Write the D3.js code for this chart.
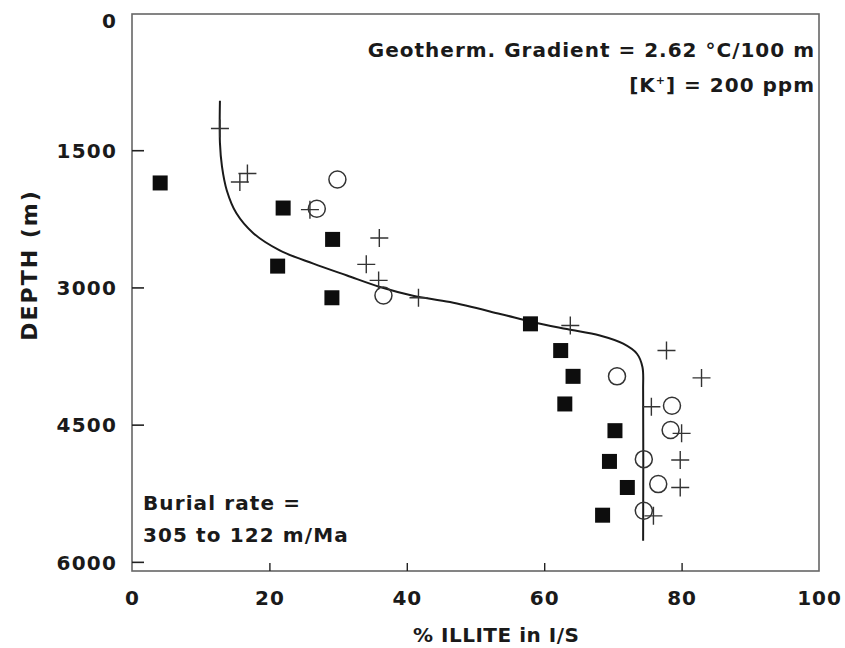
<!DOCTYPE html>
<html><head><meta charset="utf-8">
<script src="https://cdn.jsdelivr.net/npm/d3@7"></script>
<style>
html,body{margin:0;padding:0;background:#fff;}
text{font-family:"DejaVu Sans",sans-serif;font-weight:bold;fill:#1a1a1a;}
</style></head>
<body>
<svg id="chart" width="845" height="648"></svg>
<script>
// ---- data (illite %, depth m) ----
const xTicks = [0, 20, 40, 60, 80, 100];
const yTicks = [0, 1500, 3000, 4500, 6000];
const modelIllite = [12.8, 12.8, 13.1, 13.8, 15.2, 17.7, 21.5, 26.4, 31.3, 36.1, 40.9, 46.3, 53.6, 58.4, 63.3, 68.1, 71.5, 73.5, 74.3, 74.4, 74.4];
const modelDepth  = [960, 1420, 1680, 1940, 2190, 2410, 2595, 2740, 2870, 2995, 3090, 3160, 3290, 3380, 3455, 3525, 3615, 3725, 3870, 4130, 5770];
const squareIllite = [4.1, 22.0, 29.2, 21.2, 29.1, 58.0, 62.4, 64.2, 63.0, 70.3, 69.5, 72.1, 68.5];
const squareDepth  = [1858, 2132, 2475, 2767, 3113, 3398, 3690, 3972, 4274, 4566, 4902, 5187, 5490];
const circleIllite = [29.9, 26.9, 36.6, 70.6, 78.6, 78.4, 74.5, 76.6, 74.5];
const circleDepth  = [1821, 2139, 3088, 3972, 4293, 4559, 4877, 5150, 5442];
const plusIllite = [12.8, 16.8, 15.7, 25.9, 36.0, 34.1, 35.9, 41.7, 63.8, 77.8, 82.9, 75.6, 80.0, 79.8, 79.8, 75.9];
const plusDepth  = [1263, 1755, 1847, 2150, 2460, 2748, 2923, 3113, 3416, 3690, 3989, 4304, 4595, 4887, 5187, 5497];

const svg = d3.select("#chart");
const x = d3.scaleLinear().domain([0, 100]).range([132, 819]);
const y = d3.scaleLinear().domain([0, 6100]).range([13, 571]);

// frame
svg.append("rect")
  .attr("x", x(0)).attr("y", y(0) + 1)
  .attr("width", x(100) - x(0)).attr("height", y(6100) - y(0) - 1)
  .attr("fill", "none").attr("stroke", "#666").attr("stroke-width", 1.6);

// y axis
const yAxis = svg.append("g").attr("transform", `translate(${x(0)},0)`)
  .call(d3.axisLeft(y).tickValues(yTicks).tickFormat(d3.format("d"))
    .tickSizeInner(-12).tickSizeOuter(0).tickPadding(15));
yAxis.select(".domain").remove();
yAxis.selectAll(".tick line").attr("stroke", "#222").attr("stroke-width", 1.6)
  .filter(d => d === 0).remove();
yAxis.selectAll(".tick text").attr("font-size", 20).attr("letter-spacing", 1.2)
  .attr("font-family", "DejaVu Sans").attr("font-weight", "bold")
  .attr("dy", d => d === 0 ? "0.72em" : "0.36em");

// x axis
const xAxis = svg.append("g").attr("transform", `translate(0,${y(6100)})`)
  .call(d3.axisBottom(x).tickValues(xTicks).tickFormat(d3.format("d"))
    .tickSizeInner(-8).tickSizeOuter(0).tickPadding(20));
xAxis.select(".domain").remove();
xAxis.selectAll(".tick line").attr("stroke", "#222").attr("stroke-width", 1.4)
  .filter(d => d === 0 || d === 100).remove();
xAxis.selectAll(".tick text").attr("font-size", 20).attr("letter-spacing", 1)
  .attr("font-family", "DejaVu Sans").attr("font-weight", "bold");

// axis titles
svg.append("text").attr("x", 413).attr("y", 642).attr("font-size", 20).attr("letter-spacing", 0.5)
  .text("% ILLITE in I/S");
svg.append("text").attr("transform", "translate(37,265) rotate(-90)")
  .attr("text-anchor", "middle").attr("font-size", 22).attr("letter-spacing", 2)
  .text("DEPTH (m)");

// annotations
svg.append("text").attr("x", 815).attr("y", 57).attr("text-anchor", "end")
  .attr("font-size", 20).attr("letter-spacing", 1).text("Geotherm. Gradient = 2.62 °C/100 m");
const k = svg.append("text").attr("x", 815).attr("y", 92).attr("text-anchor", "end")
  .attr("font-size", 20).attr("letter-spacing", 1);
k.append("tspan").text("[K");
k.append("tspan").attr("font-size", 11).attr("dy", -8).text("+");
k.append("tspan").attr("dy", 8).text("] = 200 ppm");
svg.append("text").attr("x", 143).attr("y", 510).attr("font-size", 20).attr("letter-spacing", 1.1)
  .text("Burial rate =");
svg.append("text").attr("x", 143).attr("y", 542).attr("font-size", 20).attr("letter-spacing", 1.1)
  .text("305 to 122 m/Ma");

// model curve
const model = modelIllite.map((v, i) => [v, modelDepth[i]]);
svg.append("path").datum(model)
  .attr("d", d3.line().x(d => x(d[0])).y(d => y(d[1])).curve(d3.curveCatmullRom.alpha(0.5)))
  .attr("fill", "none").attr("stroke", "#1a1a1a").attr("stroke-width", 2);

// squares
const sq = 15;
svg.append("g").selectAll("rect").data(squareIllite.map((v, i) => [v, squareDepth[i]]))
  .join("rect")
  .attr("x", d => x(d[0]) - sq / 2).attr("y", d => y(d[1]) - sq / 2)
  .attr("width", sq).attr("height", sq).attr("fill", "#0d0d0d");

// circles
svg.append("g").selectAll("circle").data(circleIllite.map((v, i) => [v, circleDepth[i]]))
  .join("circle")
  .attr("cx", d => x(d[0])).attr("cy", d => y(d[1])).attr("r", 8.5)
  .attr("fill", "none").attr("stroke", "#333").attr("stroke-width", 1.5);

// plus signs
const ph = 9;
svg.append("g").selectAll("path").data(plusIllite.map((v, i) => [v, plusDepth[i]]))
  .join("path")
  .attr("d", d => {
    const cx = x(d[0]), cy = y(d[1]);
    return `M${cx - ph},${cy}H${cx + ph}M${cx},${cy - ph}V${cy + ph}`;
  })
  .attr("fill", "none").attr("stroke", "#333").attr("stroke-width", 1.4);
</script>
</body></html>
